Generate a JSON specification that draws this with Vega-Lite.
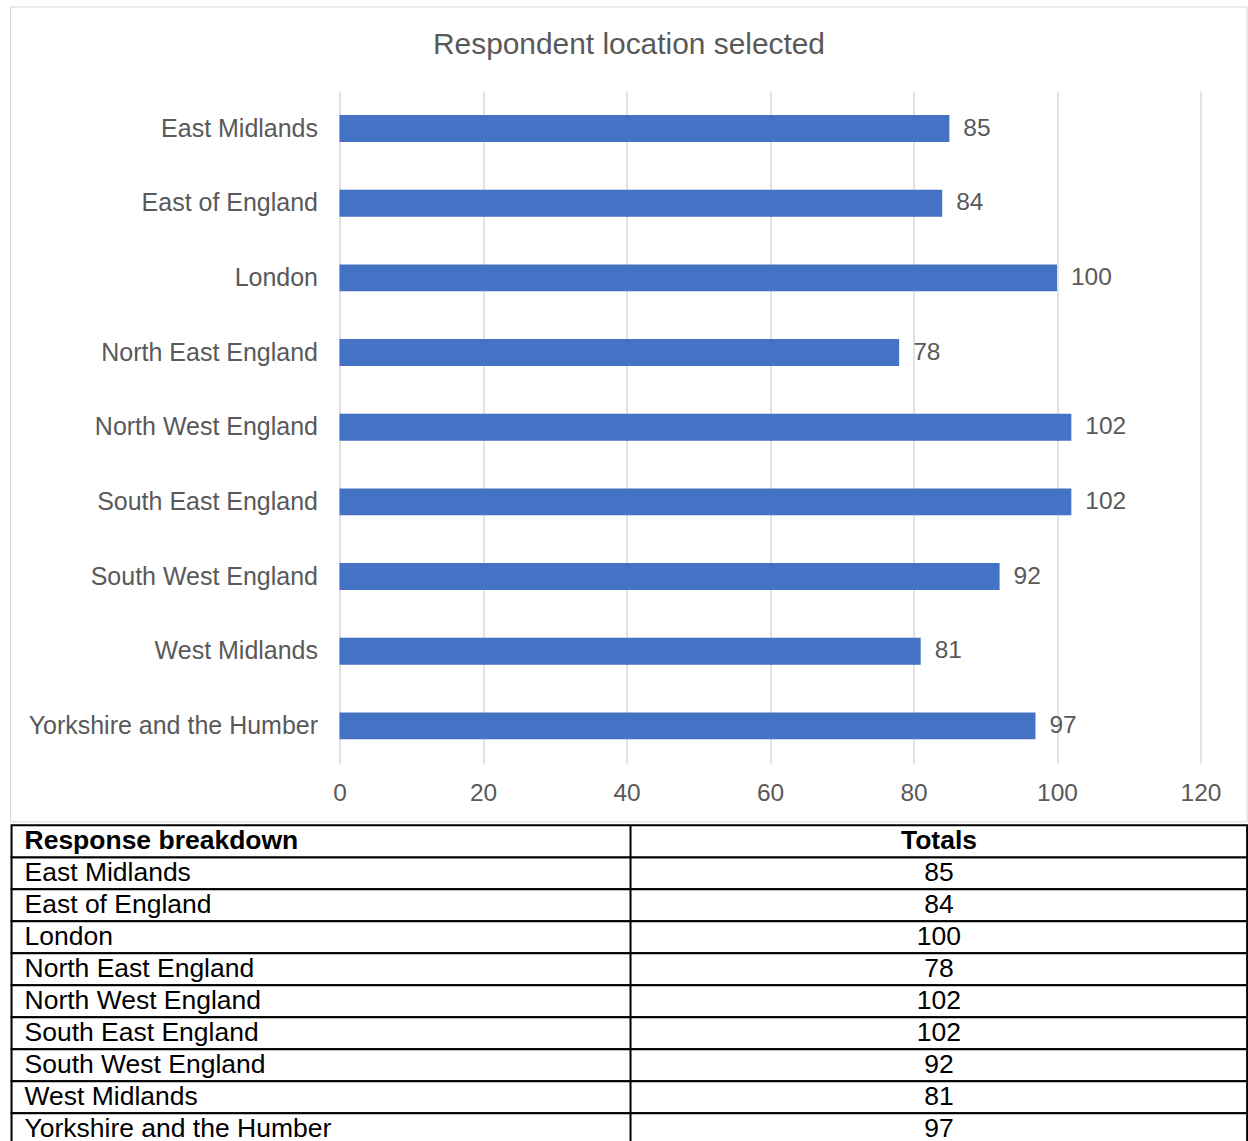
{
  "$schema": "https://vega.github.io/schema/vega-lite/v6.json",
  "background": "white",
  "padding": {"left": 9.5, "top": 6.2, "right": 0, "bottom": -4},
  "spacing": 1,
  "config": {"view": {"stroke": null}, "font": "Liberation Sans"},
  "datasets": {
    "regions": [
      {"region": "East Midlands", "total": 85},
      {"region": "East of England", "total": 84},
      {"region": "London", "total": 100},
      {"region": "North East England", "total": 78},
      {"region": "North West England", "total": 102},
      {"region": "South East England", "total": 102},
      {"region": "South West England", "total": 92},
      {"region": "West Midlands", "total": 81},
      {"region": "Yorkshire and the Humber", "total": 97}
    ],
    "header": [
      {"region": "Response breakdown", "total": "Totals"}
    ]
  },
  "vconcat": [
    {
      "width": 861,
      "height": 672,
      "title": {
        "text": "Respondent location selected",
        "fontSize": 29.9,
        "fontWeight": "normal",
        "color": "#595959",
        "anchor": "middle",
        "dx": -141,
        "offset": -77.8,
        "baseline": "alphabetic"
      },
      "resolve": {"scale": {"y": "independent"}},
      "layer": [
        {
          "data": {"values": [{}]},
          "mark": {"type": "rect", "fill": "transparent", "stroke": "#d9d9d9", "strokeWidth": 1},
          "encoding": {
            "x": {"datum": -45.85, "type": "quantitative", "scale": {"domain": [0, 120], "nice": false}},
            "x2": {"datum": 126.5},
            "y": {"datum": 1.1254, "type": "quantitative", "scale": {"domain": [0, 1], "nice": false, "zero": false}, "axis": null},
            "y2": {"datum": -0.0873}
          }
        },
        {
          "data": {"name": "regions"},
          "layer": [
            {
              "mark": {"type": "bar", "color": "#4472C4"},
              "encoding": {
                "y": {
                  "field": "region", "type": "nominal", "sort": null,
                  "scale": {"paddingInner": 0.64, "paddingOuter": 0.32},
                  "axis": {"title": null, "domain": false, "ticks": false, "labelPadding": 22, "labelFontSize": 25, "labelColor": "#595959", "labelLimit": 0}
                },
                "x": {
                  "field": "total", "type": "quantitative",
                  "scale": {"domain": [0, 120], "nice": false},
                  "axis": {"title": null, "values": [0, 20, 40, 60, 80, 100, 120], "grid": true, "gridColor": "#d9d9d9", "gridWidth": 1.5, "domain": false, "ticks": false, "labelFlush": false, "labelPadding": 18, "labelFontSize": 24.5, "labelColor": "#595959"}
                }
              }
            },
            {
              "mark": {"type": "text", "align": "left", "baseline": "middle", "dx": 14, "fontSize": 24.5, "color": "#595959"},
              "encoding": {
                "y": {"field": "region", "type": "nominal", "sort": null},
                "x": {"field": "total", "type": "quantitative"},
                "text": {"field": "total", "type": "quantitative"}
              }
            }
          ]
        }
      ]
    },
    {
      "width": 861,
      "height": 320,
      "layer": [
        {
          "data": {"name": "regions"},
          "mark": {"type": "rect", "fill": "white", "stroke": "black", "strokeWidth": 2},
          "encoding": {
            "x": {"datum": -45.71, "type": "quantitative", "scale": {"domain": [0, 120], "nice": false}, "axis": null},
            "x2": {"datum": 126.5},
            "y": {
              "field": "region", "type": "nominal", "sort": null,
              "scale": {"domain": ["Response breakdown", "East Midlands", "East of England", "London", "North East England", "North West England", "South East England", "South West England", "West Midlands", "Yorkshire and the Humber"], "paddingInner": 0, "paddingOuter": 0},
              "axis": null
            }
          }
        },
        {
          "data": {"name": "header"},
          "mark": {"type": "rect", "fill": "white", "stroke": "black", "strokeWidth": 2},
          "encoding": {
            "x": {"datum": -45.71, "type": "quantitative"},
            "x2": {"datum": 126.5},
            "y": {"field": "region", "type": "nominal", "sort": null}
          }
        },
        {
          "data": {"name": "header"},
          "mark": {"type": "rule", "color": "black", "strokeWidth": 2},
          "encoding": {
            "x": {"datum": 40.56, "type": "quantitative"}
          }
        },
        {
          "data": {"name": "regions"},
          "mark": {"type": "text", "align": "left", "baseline": "middle", "fontSize": 26.5, "color": "black"},
          "encoding": {
            "x": {"datum": -43.9, "type": "quantitative"},
            "y": {"field": "region", "type": "nominal", "sort": null},
            "text": {"field": "region", "type": "nominal"}
          }
        },
        {
          "data": {"name": "regions"},
          "mark": {"type": "text", "align": "center", "baseline": "middle", "fontSize": 26.5, "color": "black"},
          "encoding": {
            "x": {"datum": 83.55, "type": "quantitative"},
            "y": {"field": "region", "type": "nominal", "sort": null},
            "text": {"field": "total", "type": "quantitative"}
          }
        },
        {
          "data": {"name": "header"},
          "mark": {"type": "text", "align": "left", "baseline": "middle", "fontSize": 26.5, "fontWeight": "bold", "color": "black"},
          "encoding": {
            "x": {"datum": -43.9, "type": "quantitative"},
            "y": {"field": "region", "type": "nominal", "sort": null},
            "text": {"field": "region", "type": "nominal"}
          }
        },
        {
          "data": {"name": "header"},
          "mark": {"type": "text", "align": "center", "baseline": "middle", "fontSize": 26.5, "fontWeight": "bold", "color": "black"},
          "encoding": {
            "x": {"datum": 83.55, "type": "quantitative"},
            "y": {"field": "region", "type": "nominal", "sort": null},
            "text": {"field": "total", "type": "nominal"}
          }
        }
      ]
    }
  ]
}
